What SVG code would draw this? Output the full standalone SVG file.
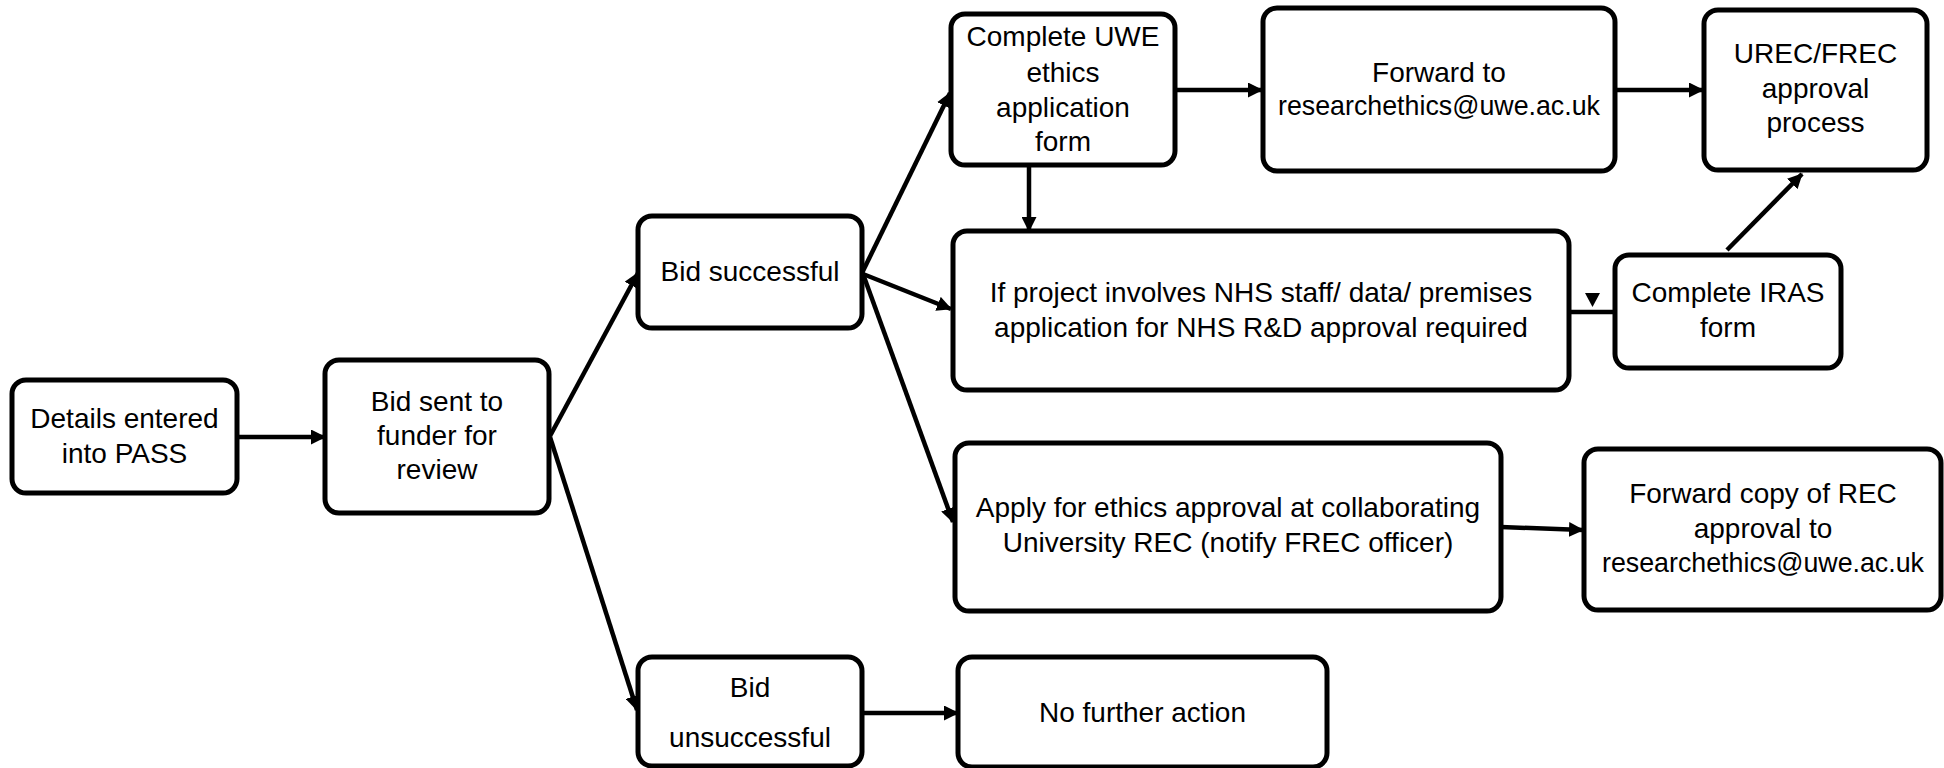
<svg xmlns="http://www.w3.org/2000/svg" width="1944" height="768" viewBox="0 0 1944 768">
<style>
.box{fill:#fff;stroke:#000;stroke-width:5}
.t{font-family:"Liberation Sans",Arial,sans-serif;font-size:28px;fill:#000;text-anchor:middle}
.c{stroke:#000;stroke-width:4.5;fill:none}
.a{marker-end:url(#ah)}
</style>
<defs>
<marker id="ah" markerUnits="userSpaceOnUse" markerWidth="15" markerHeight="15" refX="14" refY="7.5" orient="auto">
<path d="M0,0 L15,7.5 L0,15 z" fill="#000"/>
</marker>
</defs>
<rect width="1944" height="768" fill="#fff"/>
<g id="connectors">
<line class="c a" x1="237" y1="437" x2="325" y2="437"/>
<line class="c a" x1="550" y1="436" x2="638" y2="273"/>
<line class="c a" x1="550" y1="437" x2="637" y2="710"/>
<line class="c a" x1="862" y1="273" x2="950" y2="93"/>
<line class="c a" x1="863" y1="274" x2="951" y2="309"/>
<line class="c a" x1="863" y1="274" x2="953" y2="522"/>
<line class="c a" x1="1029" y1="165" x2="1029" y2="231"/>
<line class="c a" x1="1175" y1="90" x2="1262" y2="90"/>
<line class="c a" x1="1615" y1="90" x2="1703" y2="90"/>
<line class="c a" x1="1727" y1="250" x2="1802" y2="174"/>
<line class="c" x1="1569" y1="312" x2="1615" y2="312"/>
<path d="M1585,293 L1600,293 L1592.5,307 z" fill="#000"/>
<line class="c a" x1="1501" y1="527" x2="1583" y2="530"/>
<line class="c a" x1="862" y1="713" x2="958" y2="713"/>
</g>
<g id="n1"><rect class="box" x="12" y="380" width="225" height="113" rx="14"/>
<text class="t" x="124.5" y="428">Details entered</text><text class="t" x="124.5" y="463">into PASS</text></g>
<g id="n2"><rect class="box" x="325" y="360" width="224" height="153" rx="14"/>
<text class="t" x="437" y="411">Bid sent to</text><text class="t" x="437" y="445">funder for</text><text class="t" x="437" y="479">review</text></g>
<g id="n3"><rect class="box" x="638" y="216" width="224" height="112" rx="14"/>
<text class="t" x="750" y="281">Bid successful</text></g>
<g id="n4"><rect class="box" x="951" y="14" width="224" height="151" rx="14"/>
<text class="t" x="1063" y="46">Complete UWE</text><text class="t" x="1063" y="82">ethics</text><text class="t" x="1063" y="117">application</text><text class="t" x="1063" y="151">form</text></g>
<g id="n5"><rect class="box" x="1263" y="8" width="352" height="163" rx="14"/>
<text class="t" x="1439" y="82">Forward to</text><text class="t" x="1439" y="115" textLength="322" lengthAdjust="spacingAndGlyphs">researchethics@uwe.ac.uk</text></g>
<g id="n6"><rect class="box" x="1704" y="10" width="223" height="160" rx="14"/>
<text class="t" x="1815.5" y="63">UREC/FREC</text><text class="t" x="1815.5" y="98">approval</text><text class="t" x="1815.5" y="132">process</text></g>
<g id="n7"><rect class="box" x="953" y="231" width="616" height="159" rx="14"/>
<text class="t" x="1261" y="302">If project involves NHS staff/ data/ premises</text><text class="t" x="1261" y="337">application for NHS R&amp;D approval required</text></g>
<g id="n8"><rect class="box" x="1615" y="255" width="226" height="113" rx="14"/>
<text class="t" x="1728" y="302">Complete IRAS</text><text class="t" x="1728" y="337">form</text></g>
<g id="n9"><rect class="box" x="955" y="443" width="546" height="168" rx="14"/>
<text class="t" x="1228" y="517">Apply for ethics approval at collaborating</text><text class="t" x="1228" y="552">University REC (notify FREC officer)</text></g>
<g id="n10"><rect class="box" x="1584" y="449" width="357" height="161" rx="14"/>
<text class="t" x="1763" y="503">Forward copy of REC</text><text class="t" x="1763" y="538">approval to</text><text class="t" x="1763" y="572" textLength="322" lengthAdjust="spacingAndGlyphs">researchethics@uwe.ac.uk</text></g>
<g id="n11"><rect class="box" x="638" y="657" width="224" height="109" rx="14"/>
<text class="t" x="750" y="697">Bid</text><text class="t" x="750" y="747">unsuccessful</text></g>
<g id="n12"><rect class="box" x="958" y="657" width="369" height="110" rx="14"/>
<text class="t" x="1142.5" y="722">No further action</text></g>
</svg>
